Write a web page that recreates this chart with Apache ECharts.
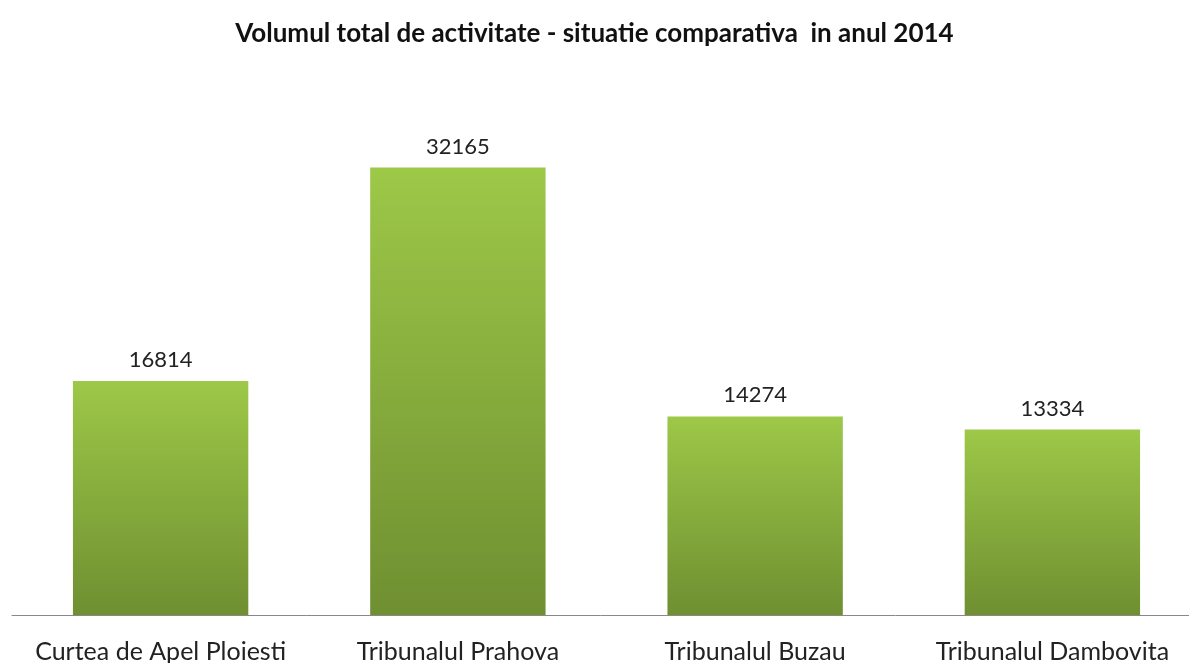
<!DOCTYPE html>
<html><head><meta charset="utf-8">
<script src="https://cdn.jsdelivr.net/npm/echarts@6/dist/echarts.min.js"></script>
<style>html,body{margin:0;padding:0;background:#fff}#c{width:1189px;height:663px}</style>
</head><body><div id="c"></div>
<script>
const categories = ['Curtea de Apel Ploiesti','Tribunalul Prahova','Tribunalul Buzau','Tribunalul Dambovita'];
const values = [16814, 32165, 14274, 13334];
const titleText = 'Volumul total de activitate - situatie comparativa  in anul 2014';

const chart = echarts.init(document.getElementById('c'));
chart.setOption({
  animation: false,
  backgroundColor: '#fff',
  title: {
    text: titleText, left: 'center', top: 16,
    textStyle: {fontFamily: 'Lato', fontWeight: 'bold', fontSize: 26, color: '#111'}
  },
  grid: {left: 12, right: -12, top: 128, bottom: 48, containLabel: false, outerBoundsMode: 'none'},
  xAxis: {
    type: 'category', data: categories,
    axisLine: {lineStyle: {color: '#888', width: 1}},
    axisTick: {show: false},
    axisLabel: {fontFamily: 'Lato', fontSize: 25, color: '#222', margin: 24, interval: 0, hideOverlap: false}
  },
  yAxis: {
    type: 'value', min: 0, max: 35000, show: false,
    splitLine: {show: false}
  },
  series: [{
    type: 'bar', data: values, barWidth: '59%',
    itemStyle: {
      color: new echarts.graphic.LinearGradient(0,0,0,1,[
        {offset: 0, color: '#9dc848'},
        {offset: 1, color: '#6f8f31'}
      ])
    },
    label: {show: true, position: 'top', distance: 10, fontFamily: 'Lato', fontSize: 22, color: '#222'}
  }]
});
</script></body></html>
